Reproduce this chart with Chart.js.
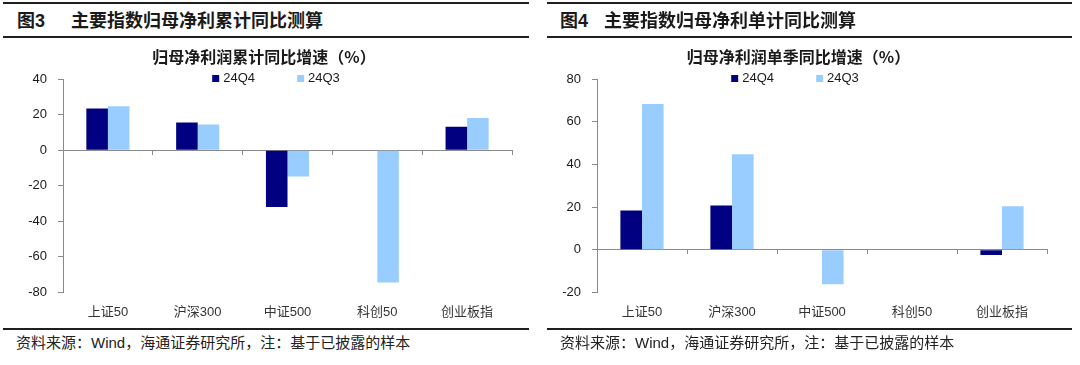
<!DOCTYPE html>
<html lang="zh-CN">
<head>
<meta charset="utf-8">
<title>主要指数归母净利同比测算</title>
<script src="https://cdn.jsdelivr.net/npm/chart.js@4.4.1/dist/chart.umd.min.js"></script>
<style>
    html, body { margin: 0; padding: 0; background: #fff; }
    body {
        width: 1080px; height: 365px; position: relative; overflow: hidden;
        font-family: "Liberation Sans", "Noto Sans CJK SC", sans-serif; color: #1a1a1a;
    }
    .rule { position: absolute; height: 2px; background: #1f1f1f; }
    .fig-head { position: absolute; top: 10px; font-size: 18px; font-weight: bold; line-height: 22px; white-space: nowrap; }
    .chart-box { position: absolute; top: 42px; height: 282px; }
    .legend {
        position: absolute; top: 71px; display: flex; transform: translateX(-50%);
        font-size: 13px; line-height: 14px; color: #1a1a1a; white-space: nowrap;
    }
    .legend .item { display: flex; align-items: center; margin: 0 21px; }
    .legend .swatch { width: 7px; height: 7px; margin-right: 4px; }
    .source { position: absolute; top: 334px; font-size: 15px; line-height: 18px; color: #222; white-space: nowrap; }
</style>
</head>
<body>

<!-- left panel -->
<div class="rule" style="left:3px; width:526px; top:2px;"></div>
<div class="fig-head" style="left:17px;">图3</div>
<div class="fig-head" style="left:71px;">主要指数归母净利累计同比测算</div>
<div class="rule" style="left:3px; width:526px; top:36px;"></div>
<div class="chart-box" style="left:16px; width:522px;"><canvas id="cumulativeChart"></canvas></div>
<div class="legend" id="cumulativeLegend" style="left:276px;"></div>
<div class="rule" style="left:3px; width:526px; top:328px;"></div>
<div class="source" style="left:16px;">资料来源：Wind，海通证券研究所，注：基于已披露的样本</div>

<!-- right panel -->
<div class="rule" style="left:547px; width:525px; top:2px;"></div>
<div class="fig-head" style="left:560px;">图4</div>
<div class="fig-head" style="left:604px;">主要指数归母净利单计同比测算</div>
<div class="rule" style="left:547px; width:525px; top:36px;"></div>
<div class="chart-box" style="left:530px; width:530px;"><canvas id="quarterlyChart"></canvas></div>
<div class="legend" id="quarterlyLegend" style="left:795px;"></div>
<div class="rule" style="left:547px; width:525px; top:328px;"></div>
<div class="source" style="left:560px;">资料来源：Wind，海通证券研究所，注：基于已披露的样本</div>

<script>
// chart data
const categories = ['上证50', '沪深300', '中证500', '科创50', '创业板指'];
const seriesNames = ['24Q4', '24Q3'];
const seriesColors = ['#000080', '#99ccff'];

// 归母净利润累计同比增速（%）
const cumulativeQ4 = [23.5, 15.6, -32.0, null, 13.2];
const cumulativeQ3 = [24.8, 14.5, -14.7, -74.4, 18.2];
const cumulativeTicks = [-80, -60, -40, -20, 0, 20, 40];

// 归母净利润单季同比增速（%）
const quarterlyQ4 = [18.4, 20.8, null, null, -2.5];
const quarterlyQ3 = [68.4, 44.8, -16.2, null, 20.4];
const quarterlyTicks = [-20, 0, 20, 40, 60, 80];

const AXIS_GRAY = '#8a8a8a';
const LABEL_FONT = '"Liberation Sans", "Noto Sans CJK SC", sans-serif';

/**
 * Builds one grouped bar chart
 */
function buildChart(canvasId, legendId, title, q4, q3, ticks, padding) {
    const ctx = document.getElementById(canvasId).getContext('2d');
    const seriesData = [q4, q3];

    const chart = new Chart(ctx, {
        type: 'bar',
        data: {
            labels: categories,
            datasets: seriesNames.map((name, i) => ({
                label: name,
                data: seriesData[i],
                backgroundColor: seriesColors[i],
                borderWidth: 0,
                categoryPercentage: 0.48,
                barPercentage: 1.0
            }))
        },
        options: {
            responsive: true,
            maintainAspectRatio: false,
            animation: false,
            layout: { padding: padding },
            plugins: {
                legend: { display: false },
                tooltip: { enabled: false },
                title: {
                    display: true,
                    text: title,
                    color: '#1a1a1a',
                    font: { family: '"Noto Sans CJK SC", sans-serif', size: 16, weight: 'bold' },
                    padding: { top: 5, bottom: 13 }
                }
            },
            scales: {
                x: {
                    grid: { display: false },
                    border: { display: false },
                    ticks: {
                        color: '#333',
                        padding: 4,
                        maxRotation: 0,
                        font: { family: LABEL_FONT, size: 13 }
                    }
                },
                // zero line with category separators
                xZero: {
                    type: 'category',
                    axis: 'x',
                    position: { y: 0 },
                    offset: true,
                    grid: {
                        offset: true,
                        drawOnChartArea: false,
                        drawTicks: true,
                        tickLength: 4,
                        color: AXIS_GRAY
                    },
                    border: { display: true, color: AXIS_GRAY, width: 1 },
                    ticks: { display: false }
                },
                y: {
                    min: ticks[0],
                    max: ticks[ticks.length - 1],
                    afterFit: (scale) => { scale.width = 47; },
                    afterBuildTicks: (scale) => {
                        scale.ticks = ticks.map(v => ({ value: v }));
                    },
                    grid: {
                        drawOnChartArea: false,
                        drawTicks: true,
                        tickLength: 5,
                        color: AXIS_GRAY
                    },
                    border: { display: true, color: AXIS_GRAY, width: 1 },
                    ticks: {
                        color: '#1a1a1a',
                        padding: 11,
                        font: { family: LABEL_FONT, size: 13 }
                    }
                }
            }
        }
    });

    // legend from the datasets
    const legend = document.getElementById(legendId);
    legend.innerHTML = chart.data.datasets.map(ds => `
        <span class="item">
            <span class="swatch" style="background-color: ${ds.backgroundColor}"></span>${ds.label}
        </span>`).join('');

    return chart;
}

buildChart('cumulativeChart', 'cumulativeLegend', '归母净利润累计同比增速（%）',
    cumulativeQ4, cumulativeQ3, cumulativeTicks,
    { left: 0, right: 26, top: 0, bottom: 0 });

buildChart('quarterlyChart', 'quarterlyLegend', '归母净利润单季同比增速（%）',
    quarterlyQ4, quarterlyQ3, quarterlyTicks,
    { left: 20, right: 13, top: 0, bottom: 0 });
</script>
</body>
</html>
